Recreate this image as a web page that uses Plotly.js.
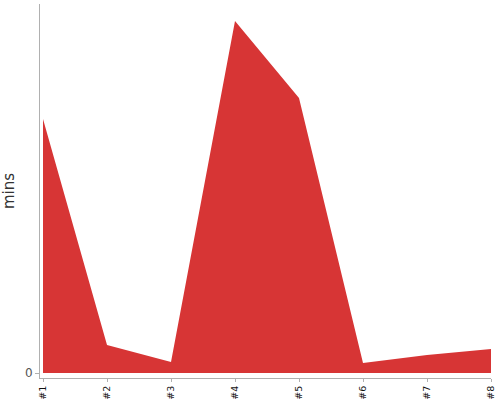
<!DOCTYPE html>
<html>
<head>
<meta charset="utf-8">
<script src="https://cdn.plot.ly/plotly-3.0.1.min.js"></script>
<style>
  html, body { margin: 0; padding: 0; background: #fff; }
  #myDiv { width: 500px; height: 400px; }
</style>
</head>
<body>
<div id="myDiv"></div>
<script>
var labels = ['#1', '#2', '#3', '#4', '#5', '#6', '#7', '#8'],
    mins = [25.4, 2.8, 1.1, 35.2, 27.5, 1.0, 1.8, 2.4];

var data = [{
  x: labels,
  y: mins,
  type: 'scatter',
  mode: 'lines',
  fill: 'tozeroy',
  fillcolor: '#d73535',
  line: {width: 0, color: '#d73535'},
  hoverinfo: 'x+y'
}];

var layout = {
  width: 500,
  height: 400,
  margin: {l: 40, r: 9, t: 4, b: 22},
  paper_bgcolor: '#fff',
  plot_bgcolor: '#fff',
  showlegend: false,
  font: {family: 'DejaVu Sans', color: '#333'},
  xaxis: {
    type: 'category',
    range: [-0.047, 7],
    showgrid: false,
    zeroline: false,
    showline: true,
    linecolor: '#b0b0b0',
    linewidth: 1,
    ticks: 'outside',
    ticklen: 3,
    tickcolor: '#b0b0b0',
    tickangle: -90,
    tickfont: {family: 'DejaVu Sans', size: 9.5, color: '#111'}
  },
  yaxis: {
    range: [-0.5, 36.9],
    tickvals: [0],
    ticktext: ['0'],
    showgrid: false,
    zeroline: false,
    showline: true,
    linecolor: '#b0b0b0',
    linewidth: 1,
    ticks: 'outside',
    ticklen: 4,
    tickcolor: '#b0b0b0',
    tickfont: {family: 'DejaVu Sans', size: 12, color: '#555'},
    title: {text: 'mins', font: {family: 'DejaVu Sans', size: 15, color: '#333'}, standoff: 10}
  }
};

Plotly.newPlot('myDiv', data, layout, {displayModeBar: false, staticPlot: true});
</script>
</body>
</html>
